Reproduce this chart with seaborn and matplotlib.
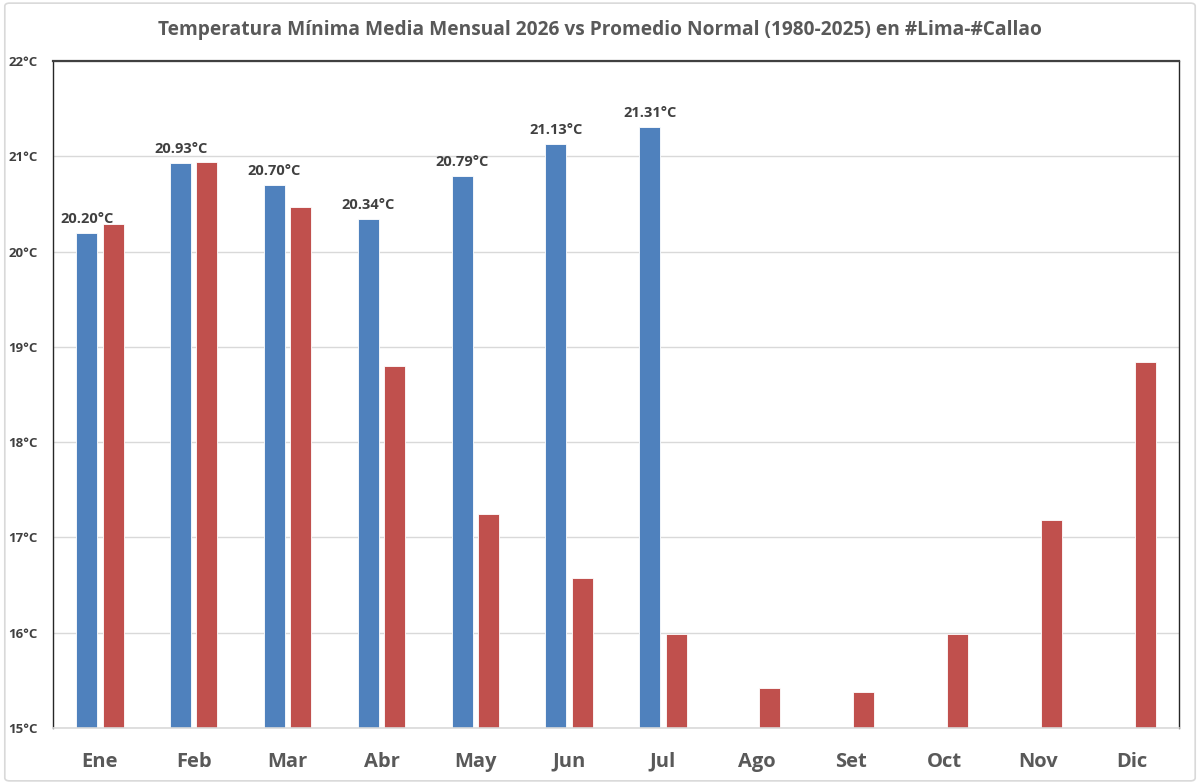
import numpy as np
import pandas as pd
import matplotlib
matplotlib.use("Agg")
import matplotlib.pyplot as plt
import seaborn as sns
from matplotlib.patches import FancyBboxPatch

# Data
meses = ["Ene", "Feb", "Mar", "Abr", "May", "Jun", "Jul", "Ago", "Set", "Oct", "Nov", "Dic"]
tmin_2026 = [20.20, 20.93, 20.70, 20.34, 20.79, 21.13, 21.31,
             np.nan, np.nan, np.nan, np.nan, np.nan]
tmin_normal = [20.29, 20.94, 20.47, 18.80, 17.25, 16.57, 15.99,
               15.42, 15.38, 15.99, 17.18, 18.84]
series = ["2026", "Normal 1980-2025"]
colores = ["#4F81BD", "#C0504D"]

df = pd.DataFrame({
    "Mes": meses * 2,
    "Serie": [series[0]] * 12 + [series[1]] * 12,
    "Temp": tmin_2026 + tmin_normal,
})

sns.set_style("white")
plt.rcParams["font.family"] = ["Open Sans", "DejaVu Sans"]

fig = plt.figure(figsize=(12, 7.84), dpi=100)
ax = fig.add_axes([0.0442, 0.0714, 0.9383, 0.8508])

sns.barplot(data=df, x="Mes", y="Temp", hue="Serie", order=meses,
            hue_order=series, palette=colores, width=0.56, gap=0.2,
            edgecolor="white", linewidth=0.6, saturation=1, ax=ax, legend=False)

ax.set_ylim(15, 22)
ax.set_xlim(-0.5, 11.5)
ax.set_yticks(range(15, 23))
ax.set_yticklabels([f"{t}°C" for t in range(15, 23)], fontsize=9.5,
                   fontweight="bold", color="#404040")
ax.tick_params(axis="y", length=0, pad=11)
ax.tick_params(axis="x", length=0, pad=17)
for lab in ax.get_xticklabels():
    lab.set_fontsize(14.5)
    lab.set_fontweight("bold")
    lab.set_color("#595959")
ax.set_xlabel("")
ax.set_ylabel("")
ax.grid(axis="y", color="#d9d9d9", linewidth=1)
ax.set_axisbelow(True)

for side in ["left", "right"]:
    ax.spines[side].set_color("#262626")
    ax.spines[side].set_linewidth(1)
ax.spines["top"].set_color("#404040")
ax.spines["top"].set_linewidth(1.6)
ax.spines["bottom"].set_color("#d9d9d9")
ax.spines["bottom"].set_linewidth(1.2)

# labels over the 2026 bars
cont = ax.containers[0]
etiquetas = ["" if np.isnan(v) else f"{v:.2f}°C" for v in cont.datavalues]
ax.bar_label(cont, labels=etiquetas, padding=5, fontsize=10.5,
             fontweight="bold", color="#404040")

fig.suptitle("Temperatura Mínima Media Mensual 2026 vs Promedio Normal (1980-2025) en #Lima-#Callao",
             x=0.5, y=0.974, fontsize=13.8, fontweight="bold", color="#595959")

borde = FancyBboxPatch((0.004, 0.004), 0.992, 0.992, boxstyle="round,pad=0,rounding_size=0.004",
                       transform=fig.transFigure, facecolor="none",
                       edgecolor="#d9d9d9", linewidth=1.2)
fig.patches.append(borde)

plt.savefig("out.png", dpi=100)
plt.close()
